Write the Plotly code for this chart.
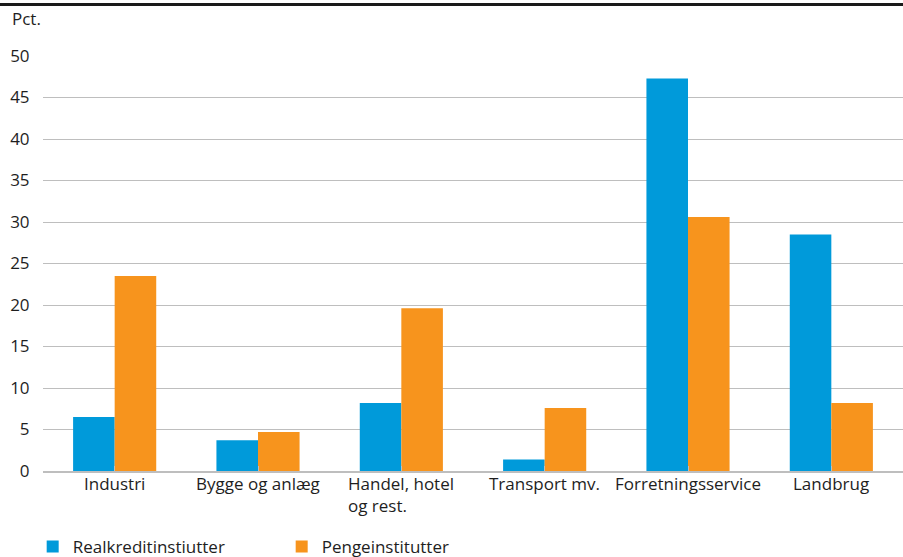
import plotly.graph_objects as go

# Sector shares of lending, percent
categories = ["Industri", "Bygge og anlæg", "Handel, hotel<br>og rest.",
              "Transport mv.", "Forretningsservice", "Landbrug"]
realkredit = [6.5, 3.7, 8.2, 1.4, 47.3, 28.5]
penge = [23.5, 4.7, 19.6, 7.6, 30.6, 8.2]
y_ticks = [0, 5, 10, 15, 20, 25, 30, 35, 40, 45, 50]

BLUE = "#009ADA"
ORANGE = "#F7941D"
TEXT = "#1E1E1E"
GRID = "#BEBEBE"
FONT = "Open Sans"
FS = 17

fig = go.Figure()
fig.add_trace(go.Bar(x=list(range(len(categories))), y=realkredit,
                     name="Realkreditinstiutter", marker_color=BLUE,
                     marker_line_width=0))
fig.add_trace(go.Bar(x=list(range(len(categories))), y=penge,
                     name="Pengeinstitutter", marker_color=ORANGE,
                     marker_line_width=0))

fig.update_layout(
    width=903, height=557,
    margin=dict(l=43, r=0, t=56, b=86, autoexpand=False),
    plot_bgcolor="white", paper_bgcolor="white",
    font=dict(family=FONT, size=FS, color=TEXT),
    barmode="group", bargap=0.42, bargroupgap=0,
    showlegend=True,
    legend=dict(orientation="h", x=-0.012, xanchor="left",
                y=-0.183, yanchor="middle",
                entrywidth=204, entrywidthmode="pixels",
                font=dict(family=FONT, size=FS, color=TEXT),
                itemclick=False, itemdoubleclick=False),
)

fig.update_xaxes(
    range=[-0.5, len(categories) - 0.5],
    tickmode="array", tickvals=list(range(len(categories))),
    ticktext=[""] * len(categories),
    showgrid=False, showline=True, linecolor=GRID, linewidth=1.5,
    ticks="inside", ticklen=5, tickcolor=GRID, tickwidth=1,
    zeroline=False,
)
fig.update_yaxes(
    range=[0, 50], tickvals=y_ticks,
    showgrid=True, gridcolor=GRID, gridwidth=1.3,
    ticks="outside", ticklen=9, tickcolor="rgba(0,0,0,0)",
    zeroline=False, showline=False,
    tickfont=dict(family=FONT, size=FS, color=TEXT),
)

# Category labels, left-aligned within each block
for i, lab in enumerate(categories):
    fig.add_annotation(x=i, xref="x", y=0.002, yref="paper",
                       text=lab, showarrow=False, align="left",
                       xanchor="center", yanchor="top",
                       font=dict(family=FONT, size=FS, color=TEXT))

# Unit label and top rule
fig.add_annotation(x=-33 / 860, xref="paper", y=(471 - 18) / 415, yref="paper",
                   text="Pct.", showarrow=False, xanchor="left", yanchor="middle",
                   font=dict(family=FONT, size=FS, color=TEXT))
fig.add_shape(type="line", xref="paper", yref="paper",
              x0=-43 / 860, x1=1.0, y0=(471 - 4.5) / 415, y1=(471 - 4.5) / 415,
              line=dict(color="#1A1A1A", width=3))

fig.write_html("out.html")
